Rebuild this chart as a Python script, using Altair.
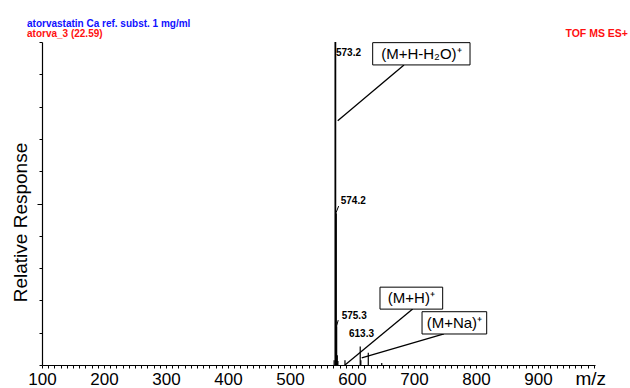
import altair as alt
import pandas as pd

# Spectrum peaks (m/z, relative response %)
peak_mz = [571.2, 573.2, 574.2, 575.3, 576.3, 577.3, 588.7, 613.3, 614.3, 626.3, 648.0]
peak_int = [1.5, 100.0, 47.0, 12.0, 3.0, 1.2, 1.5, 5.7, 1.5, 3.8, 0.6]

# Peak value labels
plabel_text = ["573.2", "574.2", "575.3", "613.3"]
plabel_mz = [574.2, 581.8, 583.4, 595.2]
plabel_y = [96.6, 50.9, 15.2, 9.6]

# Small hooks from peaks to labels
hook_x1 = [574.2, 575.3]
hook_y1 = [47.1, 12.1]
hook_x2 = [578.5, 577.8]
hook_y2 = [49.2, 13.9]

# Ion annotation boxes
ion_text = ["(M+H-H\u2082O)\u207a", "(M+H)\u207a", "(M+Na)\u207a"]
box_x1 = [633.4, 645.2, 713.0]
box_x2 = [790.4, 746.3, 817.3]
box_y1 = [92.9, 17.3, 9.6]
box_y2 = [99.8, 24.1, 16.5]
lead_x1 = [683.9, 697.9, 748.4]
lead_y1 = [92.9, 17.3, 9.6]
lead_x2 = [577.0, 588.7, 615.7]
lead_y2 = [75.6, 0.0, 2.2]

# Header texts
header_main = ["atorvastatin Ca ref. subst. 1 mg/ml"]
header_sub = ["atorva_3 (22.59)"]
header_right = ["TOF MS ES+"]

x_ticks = list(range(100, 1000, 10))
y_ticks = list(range(0, 101, 10))

peaks = pd.DataFrame({"mz": peak_mz, "int": peak_int})
plabels = pd.DataFrame({"t": plabel_text, "x": plabel_mz, "y": plabel_y})
hooks = pd.DataFrame({"x": hook_x1, "y": hook_y1, "x2": hook_x2, "y2": hook_y2})
boxes = pd.DataFrame({"t": ion_text, "x": box_x1, "x2": box_x2, "y": box_y1, "y2": box_y2})
boxes["cx"] = (boxes["x"] + boxes["x2"]) / 2
boxes["cy"] = (boxes["y"] + boxes["y2"]) / 2
leads = pd.DataFrame({"x": lead_x1, "y": lead_y1, "x2": lead_x2, "y2": lead_y2})
headers = pd.DataFrame({"h1": header_main, "h2": header_sub, "h3": header_right})

FONT = "Liberation Sans"

xscale = alt.Scale(domain=[100, 992], nice=False, zero=False)
yscale = alt.Scale(domain=[0, 100], nice=False)

xaxis = alt.Axis(
    values=x_ticks,
    tickCount=500,
    labelExpr="datum.value % 100 == 0 ? datum.label : ''",
    format="d",
    labelOverlap=False,
    labelFlush=False,
    labelFont=FONT,
    labelFontSize=17,
    labelColor="black",
    labelPadding=3,
    tickSize=3,
    tickColor="black",
    domainColor="black",
    domainWidth=1.2,
    grid=False,
    title="m/z",
    titleFont=FONT,
    titleFontSize=19,
    titleFontWeight="normal",
    titleColor="black",
    titleX=533,
    titleY=19,
    titleAlign="left",
    titleBaseline="alphabetic",
)

yaxis = alt.Axis(
    values=y_ticks,
    tickCount=100,
    labels=False,
    tickSize={"condition": {"test": "datum.value == 50", "value": 5}, "value": 3},
    tickColor="black",
    domainColor="black",
    domainWidth=1.2,
    grid=False,
    title="Relative Response",
    titleFont=FONT,
    titleFontSize=19,
    titleFontWeight="normal",
    titleColor="black",
    titleAngle=270,
    titleX=-22,
    titleY=180,
    titleAlign="center",
    titleBaseline="middle",
)

spec = alt.Chart(peaks).mark_rule(color="black").encode(
    x=alt.X("mz:Q", scale=xscale, axis=xaxis),
    y=alt.Y("int:Q", scale=yscale, axis=yaxis),
    y2=alt.datum(0),
    strokeWidth=alt.condition("datum.int >= 40", alt.value(1.8), alt.value(1.2)),
)

peak_labels = alt.Chart(plabels).mark_text(
    font=FONT, fontSize=10, fontWeight="bold", align="left", baseline="middle", color="black"
).encode(x="x:Q", y="y:Q", text="t:N")

hook_marks = alt.Chart(hooks).mark_rule(color="black", strokeWidth=1).encode(
    x="x:Q", y="y:Q", x2="x2:Q", y2="y2:Q"
)

lead_marks = alt.Chart(leads).mark_rule(color="black", strokeWidth=1.3).encode(
    x="x:Q", y="y:Q", x2="x2:Q", y2="y2:Q"
)

box_marks = alt.Chart(boxes).mark_rect(fill="white", stroke="black", strokeWidth=1).encode(
    x="x:Q", x2="x2:Q", y="y:Q", y2="y2:Q"
)

box_text = alt.Chart(boxes).mark_text(
    font=FONT, fontSize=15, align="center", baseline="middle", color="black"
).encode(x="cx:Q", y="cy:Q", text="t:N")

head1 = alt.Chart(headers).mark_text(
    font=FONT, fontSize=10, fontWeight="bold",
    color="#1010ff", align="left", baseline="middle"
).encode(x=alt.value(-15), y=alt.value(-18), text="h1:N")

head2 = alt.Chart(headers).mark_text(
    font=FONT, fontSize=10, fontWeight="bold",
    color="#ff1010", align="left", baseline="middle"
).encode(x=alt.value(-15), y=alt.value(-8), text="h2:N")

head3 = alt.Chart(headers).mark_text(
    font=FONT, fontSize=10.5, fontWeight="bold",
    color="#ff1010", align="right", baseline="middle"
).encode(x=alt.value(586), y=alt.value(-8), text="h3:N")

chart = alt.layer(
    spec, hook_marks, lead_marks, box_marks, box_text, peak_labels, head1, head2, head3
).properties(
    width=553,
    height=323,
    autosize=alt.AutoSizeParams(type="none"),
    padding={"left": 42, "top": 42, "right": 35, "bottom": 23},
    background="white",
).configure_view(stroke=None)

chart.save("out.html", embed_options={"renderer": "svg", "actions": False})
